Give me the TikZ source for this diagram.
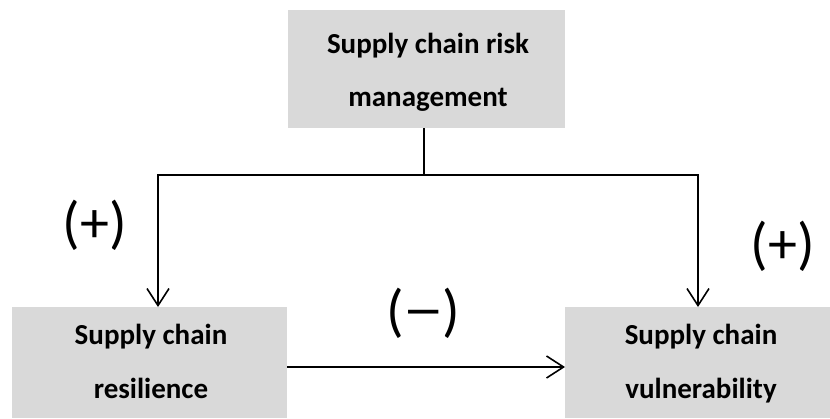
\documentclass[tikz,border=0pt]{standalone}
\usepackage{fontspec}
\setmainfont{Carlito}
\usetikzlibrary{arrows.meta}
\definecolor{boxgray}{HTML}{D9D9D9}
\tikzset{
  box/.style={fill=boxgray, draw=none, inner sep=0pt, outer sep=0pt},
  boxtext/.style={font=\fontsize{29}{34}\selectfont\bfseries, anchor=base, inner sep=0pt},
  sign/.style={font=\fontsize{58}{60}\selectfont, inner sep=0pt},
  link/.style={line width=1.6pt, -{Straight Barb[length=17pt,width=22pt,line width=1.6pt]}},
  plain/.style={line width=1.6pt}
}
\begin{document}
\begin{tikzpicture}[x=1pt,y=-1pt]
  \useasboundingbox (0,0) rectangle (830,418);

  % boxes
  \node[box, minimum width=277pt, minimum height=118pt] (risk) at (426.5,69) {};
  \node[box, minimum width=275pt, minimum height=111pt] (res) at (149.5,362.5) {};
  \node[box, minimum width=265pt, minimum height=111pt] (vul) at (697.5,362.5) {};

  % box labels
  \node[boxtext] (risk1) at (428,53) {Supply chain risk};
  \node[boxtext] (risk2) at (428,106) {management};
  \node[boxtext] (res1) at (151,344) {Supply chain};
  \node[boxtext] (res2) at (151,398) {resilience};
  \node[boxtext] (vul1) at (701,344) {Supply chain};
  \node[boxtext] (vul2) at (701,398) {vulnerability};

  % connectors
  \coordinate (j) at (424,175);
  \coordinate (resin) at (158,307);
  \coordinate (vulin) at (698,307);
  \draw[plain] (risk.south -| j) -- (j);
  \draw[link] (j) -| (resin);
  \draw[link] (j) -| (vulin);
  \draw[link] ([yshift=-4.5pt]res.east) -- ([yshift=-4.5pt]vul.west);

  % signs
  \node[sign] (s1) at (95,225.5) {(+)};
  \node[sign] (s2) at (783,246.5) {(+)};
  \node[sign] (s3) at (423.5,313) {(\kern-1pt\scalebox{1.4}[1]{−}\kern-1pt)};
\end{tikzpicture}
\end{document}
